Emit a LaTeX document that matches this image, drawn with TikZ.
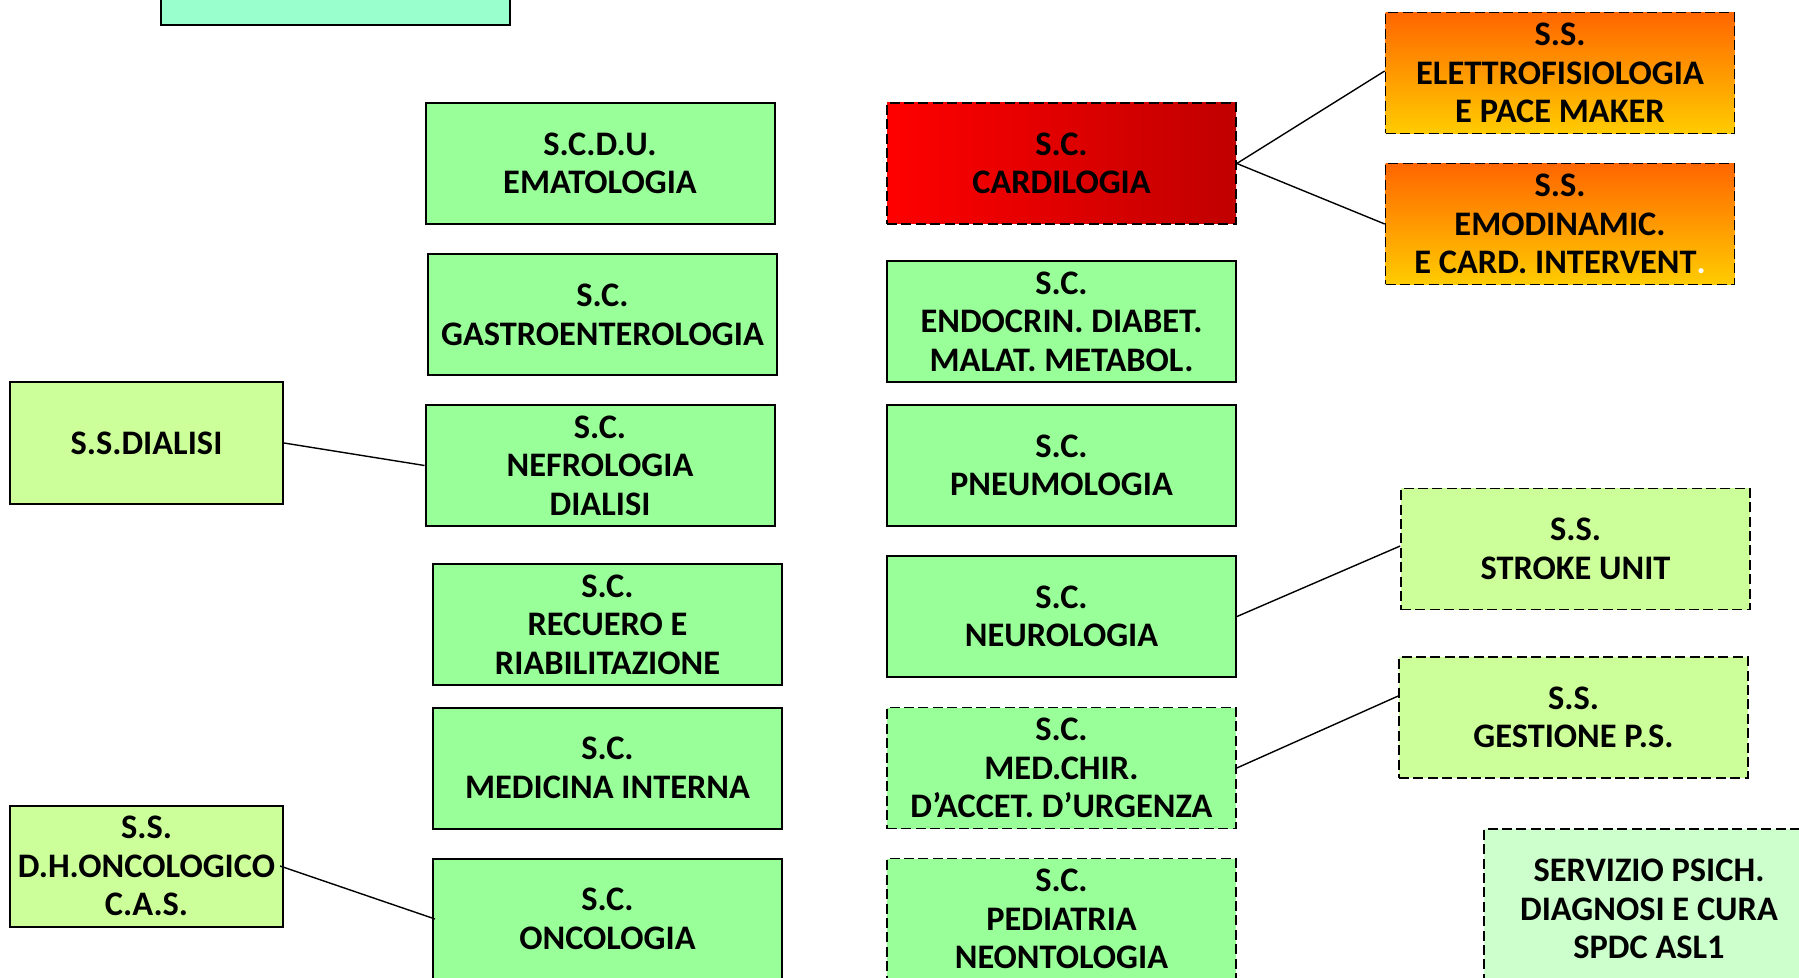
\documentclass[tikz,border=0pt]{standalone}
\usepackage{fontspec}
\setmainfont{Carlito}
\usetikzlibrary{positioning}
\definecolor{unitgreen}{RGB}{153,255,153}
\definecolor{subgreen}{RGB}{204,255,153}
\definecolor{psigreen}{RGB}{204,255,204}
\definecolor{topaqua}{RGB}{153,255,204}
\definecolor{cardleft}{RGB}{255,0,0}
\definecolor{cardright}{RGB}{192,0,0}
\definecolor{orangetop}{RGB}{255,102,0}
\definecolor{orangebot}{RGB}{255,204,0}

\begin{document}
\begin{tikzpicture}[x=0.5pt, y=-0.5pt,
		unit/.style={draw, line width=1pt, fill=unitgreen, minimum width=174.5pt, minimum height=60.5pt,
			align=center, inner sep=2pt, font=\bfseries\fontsize{17.2}{19.2}\selectfont},
		sub/.style={unit, fill=subgreen},
		dashbox/.style={line width=0.8pt, dash pattern=on 5pt off 2.2pt},
		link/.style={line width=0.7pt}]
		\clip (0,0) rectangle (1799,978);

		% Top box (cut off)
		\node[unit, fill=topaqua] (direz) at (335.5,-35.5) {};

		% Left column
		\node[sub, minimum width=136.5pt] (dialisi) at (146.5,443) {S.S.DIALISI};
		\node[sub, minimum width=136.5pt] (dhonc) at (146.5,866) {S.S.\\D.H.ONCOLOGICO\\C.A.S.};

		% Middle column
		\node[unit] (emato) at (600,163.5) {S.C.D.U.\\EMATOLOGIA};
		\node[unit] (gastro) at (602.5,315) {S.C.\\GASTROENTEROLOGIA};
		\node[unit] (nefro) at (600,465.5) {S.C.\\NEFROLOGIA\\DIALISI};
		\node[unit] (recupero) at (607.5,624.5) {S.C.\\RECUERO E\\RIABILITAZIONE};
		\node[unit] (medint) at (607.5,768) {S.C.\\MEDICINA INTERNA};
		\node[unit] (onco) at (607.5,919) {S.C.\\ONCOLOGIA};

		% Right column
		\node[unit, dashbox, left color=cardleft, right color=cardright] (cardio) at (1061.5,163.5) {S.C.\\CARDILOGIA};
		\node[unit] (endo) at (1061.5,321.5) {S.C.\\ENDOCRIN. DIABET.\\MALAT. METABOL.};
		\node[unit] (pneumo) at (1061.5,465.5) {S.C.\\PNEUMOLOGIA};
		\node[unit] (neuro) at (1061.5,616.5) {S.C.\\NEUROLOGIA};
		\node[unit, dashbox] (medchir) at (1061.5,768) {S.C.\\MED.CHIR.\\D’ACCET. D’URGENZA};
		\node[unit, dashbox] (pedia) at (1061.5,919) {S.C.\\PEDIATRIA\\NEONTOLOGIA};

		% Sub-units
		\node[unit, dashbox, top color=orangetop, bottom color=orangebot] (elettro) at (1560,73) {S.S.\\ELETTROFISIOLOGIA\\E PACE MAKER};
		\node[unit, dashbox, top color=orangetop, bottom color=orangebot] (emodin) at (1560,224) {S.S.\\EMODINAMIC.\\E CARD. INTERVENT\textcolor{white}{.}};
		\node[sub, dashbox] (stroke) at (1575.5,549) {S.S.\\STROKE UNIT};
		\node[sub, dashbox] (gestps) at (1573.5,717.5) {S.S.\\GESTIONE P.S.};
		\node[unit, dashbox, fill=psigreen, minimum width=165pt, minimum height=80pt] (spdc) at (1649,909) {SERVIZIO PSICH.\\DIAGNOSI E CURA\\SPDC ASL1};

		% Links
		\draw[link] (cardio.east) -- ([yshift=1pt]elettro.west);
		\draw[link] (cardio.east) -- (emodin.west);
		\draw[link] (dialisi.east) -- (nefro.west);
		\draw[link] (neuro.east) -- ([yshift=1.5pt]stroke.west);
		\draw[link] (medchir.east) -- ([yshift=10.75pt]gestps.west);
		\draw[link] ([xshift=-2pt]dhonc.east) -- ([xshift=1.5pt]onco.west);
	\end{tikzpicture}
\end{document}
